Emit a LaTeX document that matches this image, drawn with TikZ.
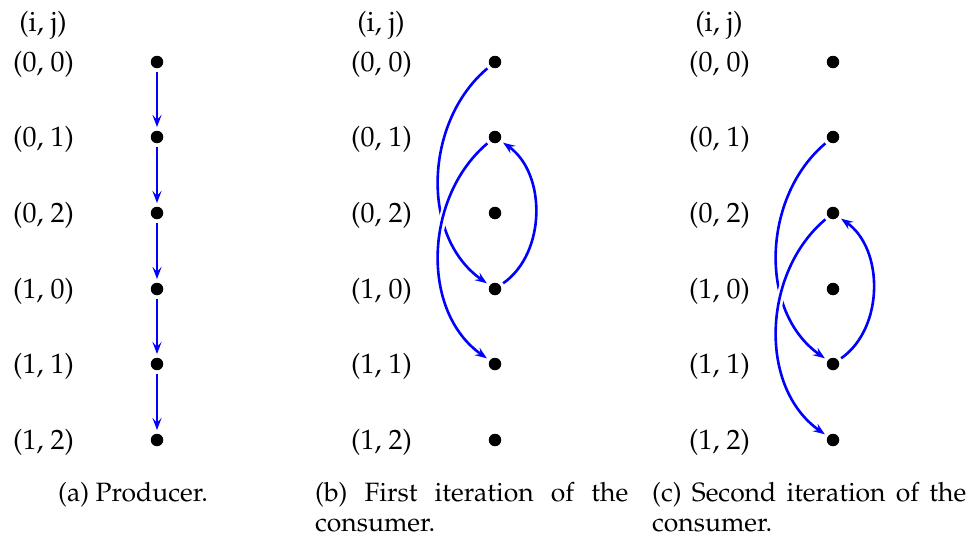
\documentclass[tikz,border=0pt]{standalone}
\usepackage[T1]{fontenc}
\usepackage{mathpazo}
\usetikzlibrary{arrows.meta}
\definecolor{arrblue}{RGB}{0,0,255}
\pgfdeclarelayer{background}
\pgfsetlayers{background,main}
\begin{document}
\begin{tikzpicture}[x=1pt,y=1pt,
  dot/.style={circle,fill=black,inner sep=0pt,minimum size=12.5pt},
  lbl/.style={font=\fontsize{28}{33}\selectfont, anchor=base, inner sep=0pt},
  captxt/.style={font=\fontsize{26.5}{30}\selectfont, anchor=north west, inner sep=0pt, align=justify},
  arr/.style={draw=arrblue, line width=2.6pt, -{Stealth[length=12pt,width=9pt,inset=4.5pt]}, shorten <=3.5pt, shorten >=3.5pt},
  halo/.style={draw=white, line width=7.5pt, shorten <=3.5pt, shorten >=3.5pt}]
\useasboundingbox (0,0) rectangle (973,-538);

\foreach \c/\x in {a/157,b/495,c/833}{
  \node[lbl] (\c-head) at (\x-114,-31.5) {(i, j)};
  \foreach \n/\y/\t in {00/62/{(0, 0)},01/137/{(0, 1)},02/213/{(0, 2)},10/289/{(1, 0)},11/364/{(1, 1)},12/440/{(1, 2)}}{
    \node[dot] (\c\n) at (\x,-\y) {};
    \node[lbl] (\c-lab\n) at (\x-113.5,-\y-9.5) {\t};
  }
}

\begin{pgfonlayer}{background}
  % (a) producer
  \draw[arr] (a00) -- (a01);
  \draw[arr] (a01) -- (a02);
  \draw[arr] (a02) -- (a10);
  \draw[arr] (a10) -- (a11);
  \draw[arr] (a11) -- (a12);
  % (b) first iteration
  \draw[arr] (b00) to[out=220,in=145] (b10);
  \draw[halo] (b01) to[out=220,in=145] (b11);
  \draw[arr] (b01) to[out=220,in=145] (b11);
  \draw[arr] (b10) to[out=35,in=-35] (b01);
  % (c) second iteration
  \draw[arr] (c01) to[out=220,in=145] (c11);
  \draw[halo] (c02) to[out=220,in=145] (c12);
  \draw[arr] (c02) to[out=220,in=145] (c12);
  \draw[arr] (c11) to[out=35,in=-35] (c02);
\end{pgfonlayer}

\node[captxt, text width=160pt] (capa) at (58,-482) {(a) Producer.};
\node[captxt, text width=313pt] (capb) at (315,-482) {(b) First iteration of the\linebreak consumer.};
\node[captxt, text width=314pt] (capc) at (652,-482) {(c) Second iteration of the\linebreak consumer.};
\end{tikzpicture}
\end{document}
